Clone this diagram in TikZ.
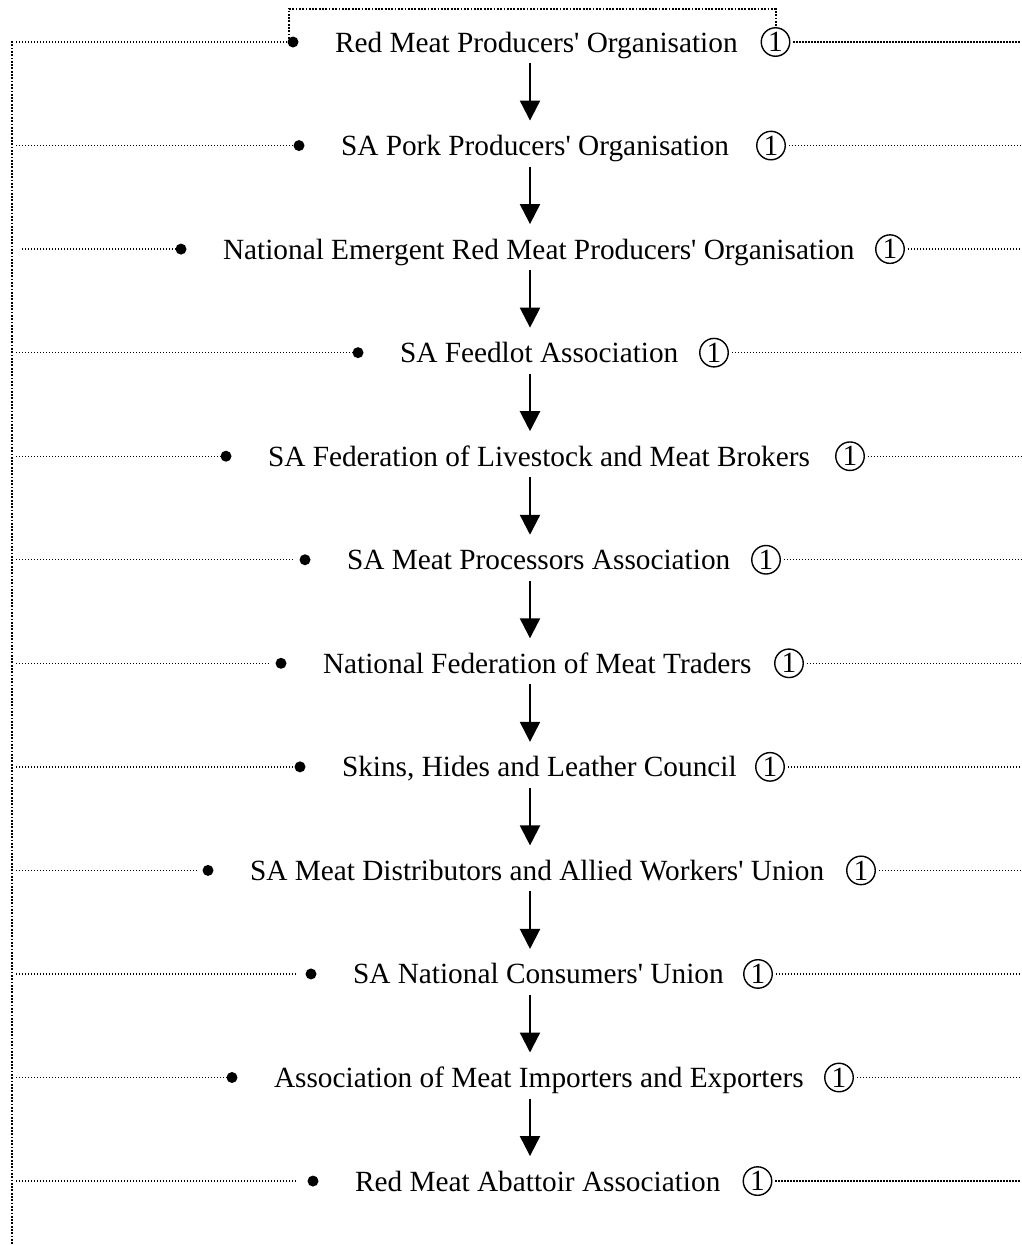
\documentclass[tikz,border=0pt]{standalone}
\usepackage{fontspec}
\newfontfamily\tnr{Liberation Serif}
\usetikzlibrary{arrows.meta,calc}
\begin{document}
\begin{tikzpicture}[x=1pt,y=-1pt,
  lbl/.style={inner sep=0pt, outer sep=0pt, font=\tnr\fontsize{29.3}{35}\selectfont, anchor=base west},
  bul/.style={circle, fill=black, inner sep=0pt, minimum size=11pt},
  onec/.style={circle, draw=black, line width=1.4pt, inner sep=0pt, minimum size=28.5pt, font=\tnr\fontsize{29.3}{35}\selectfont},
  dotl/.style={line width=1.3pt, dash pattern=on 1.3pt off 1.7pt},
  dotv/.style={line width=2pt, dash pattern=on 1.8pt off 1.5pt},
  arr/.style={line width=2.2pt, -{Triangle[length=20pt,width=20pt]}}
]
\useasboundingbox (0,0) rectangle (1021,1245);
\foreach \i/\txt/\x/\c/\g/\s in {
  1/{Red Meat Producers' Organisation}/335/775.5/0/16,
  2/{SA Pork Producers' Organisation}/341/771/0/16,
  3/{National Emergent Red Meat Producers' Organisation}/223/890/0/22,
  4/{SA Feedlot Association}/400/714/0/16,
  5/{SA Federation of Livestock and Meat Brokers}/268/850/0/16,
  6/{SA Meat Processors Association}/347/766/7/16,
  7/{National Federation of Meat Traders}/323/789/7/16,
  8/{Skins, Hides and Leather Council}/342/770/0/16,
  9/{SA Meat Distributors and Allied Workers' Union}/250/861/6/16,
  10/{SA National Consumers' Union}/353/758/9/16,
  11/{Association of Meat Importers and Exporters}/274/839/0/16,
  12/{Red Meat Abattoir Association}/355/757.5/11/16}{
  \pgfmathsetmacro\yy{42+103.55*(\i-1)}
  \node[lbl] (t\i) at (\x,\yy+10) {\txt};
  \node[bul] (b\i) at (\x-42,\yy) {};
  \node[onec] (c\i) at (\c,\yy) {1};
  \draw[dotl] (\s,\yy) -- ($(b\i.west)+(-\g,0)$);
  \draw[dotl] ($(c\i.east)+(3,0)$) -- (1021,\yy);
}
\coordinate (ax) at (530,0);
\foreach \i [evaluate=\i as \j using int(\i+1)] in {1,...,11}{
  \draw[arr] ($(b\i -| ax)+(0,21)$) -- ($(b\j -| ax)+(0,-25)$);
}
\coordinate (vtop) at (11.5,41);
\coordinate (vbot) at (11.5,1245);
\draw[dotv] (vtop) -- (vbot);
\coordinate (brk) at (0,9);
\coordinate (bk) at ([xshift=-4pt]b1.center);
\draw[dotv] (bk) -- (bk |- brk) -- (c1.north |- brk) -- (c1.north);
\end{tikzpicture}
\end{document}
